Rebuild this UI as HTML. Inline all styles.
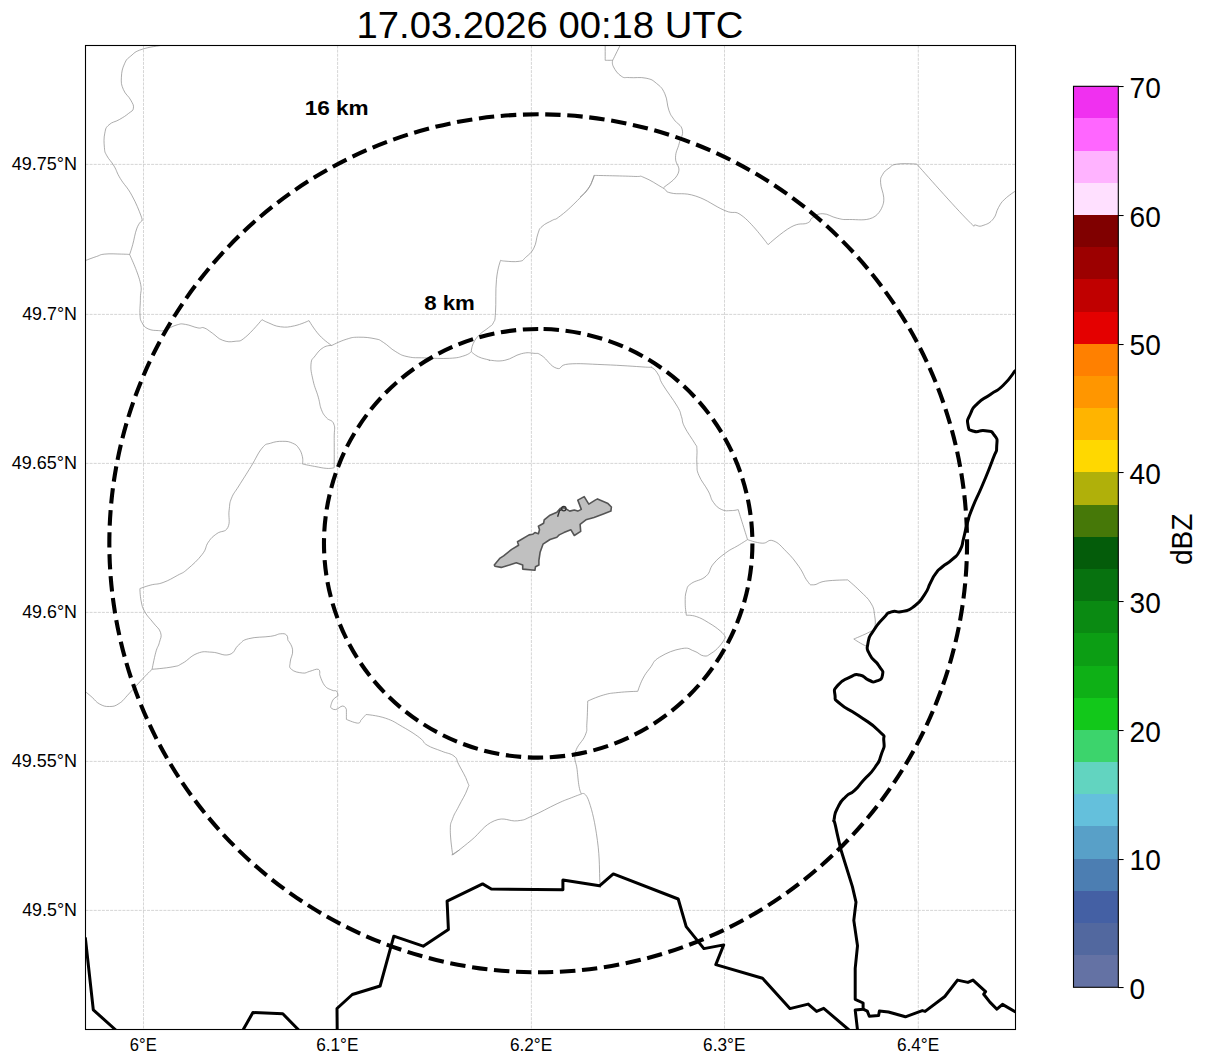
<!DOCTYPE html>
<html><head><meta charset="utf-8"><style>
html,body{margin:0;padding:0;background:#fff;width:1207px;height:1064px;overflow:hidden}
svg{display:block}
text{font-family:"Liberation Sans",sans-serif;fill:#000}
.lab{font-size:18.2px}
.cb{font-size:29.8px}
.g{stroke:#c4c4c4;stroke-width:0.7;stroke-dasharray:3 1.1}
.thin{fill:none;stroke:#888;stroke-width:0.7;stroke-linejoin:round}
.thick{fill:none;stroke:#000;stroke-width:3;stroke-linejoin:round}
.ring{fill:none;stroke:#000;stroke-width:4.1;stroke-dasharray:15.42 6.66}
.km{font-size:19.5px;font-weight:bold}
</style></head><body>
<svg width="1207" height="1064" viewBox="0 0 1207 1064">
<text x="356.6" y="37.9" style="font-size:37px" textLength="386.7" lengthAdjust="spacingAndGlyphs">17.03.2026 00:18 UTC</text>
<defs><clipPath id="clip"><rect x="85.5" y="45.5" width="930" height="984"/></clipPath></defs>
<g>
<line x1="85.5" y1="164.4" x2="1015.5" y2="164.4" class="g"/>
<line x1="85.5" y1="314.4" x2="1015.5" y2="314.4" class="g"/>
<line x1="85.5" y1="463.4" x2="1015.5" y2="463.4" class="g"/>
<line x1="85.5" y1="612.4" x2="1015.5" y2="612.4" class="g"/>
<line x1="85.5" y1="761.4" x2="1015.5" y2="761.4" class="g"/>
<line x1="85.5" y1="910.4" x2="1015.5" y2="910.4" class="g"/>
<line x1="143.5" y1="45.5" x2="143.5" y2="1029.5" class="g"/>
<line x1="337.6" y1="45.5" x2="337.6" y2="1029.5" class="g"/>
<line x1="531.4" y1="45.5" x2="531.4" y2="1029.5" class="g"/>
<line x1="724.5" y1="45.5" x2="724.5" y2="1029.5" class="g"/>
<line x1="918.3" y1="45.5" x2="918.3" y2="1029.5" class="g"/>
</g>
<text x="11.7" y="169.8" class="lab" textLength="65.3" lengthAdjust="spacingAndGlyphs">49.75°N</text>
<text x="22.2" y="319.8" class="lab" textLength="54.8" lengthAdjust="spacingAndGlyphs">49.7°N</text>
<text x="11.7" y="468.8" class="lab" textLength="65.3" lengthAdjust="spacingAndGlyphs">49.65°N</text>
<text x="22.2" y="617.8" class="lab" textLength="54.8" lengthAdjust="spacingAndGlyphs">49.6°N</text>
<text x="11.7" y="766.8" class="lab" textLength="65.3" lengthAdjust="spacingAndGlyphs">49.55°N</text>
<text x="22.2" y="915.8" class="lab" textLength="54.8" lengthAdjust="spacingAndGlyphs">49.5°N</text>
<text x="129.8" y="1050.9" class="lab" textLength="26.9" lengthAdjust="spacingAndGlyphs">6°E</text>
<text x="316.2" y="1050.9" class="lab" textLength="42.3" lengthAdjust="spacingAndGlyphs">6.1°E</text>
<text x="509.9" y="1050.9" class="lab" textLength="42.3" lengthAdjust="spacingAndGlyphs">6.2°E</text>
<text x="703.1" y="1050.9" class="lab" textLength="42.3" lengthAdjust="spacingAndGlyphs">6.3°E</text>
<text x="896.9" y="1050.9" class="lab" textLength="42.3" lengthAdjust="spacingAndGlyphs">6.4°E</text>
<g clip-path="url(#clip)">
<path class="thin" d="M605.2,45 C605.2,48.6 605.2,60.3 605.2,60.3 C605.2,60.3 612.7,60.3 612.7,60.3 C612.7,60.3 618.5,48.6 620.3,45"/>
<path class="thin" d="M612.7,60.3 C612.7,60.3 611.5,63.2 613.5,66.9 C615.5,70.6 617.5,73.7 621.3,76.2 C625.1,78.7 623.8,77.1 629.6,77.6 C635.4,78.1 639.8,76.8 646.1,78.2 C652.4,79.6 652.1,79.8 656.5,83.4 C660.9,87.0 661.9,87.4 664.8,93.7 C667.7,100.0 666.7,104.3 668.9,110.3 C671.1,116.3 671.0,115.0 674.1,119.6 C677.2,124.2 681.1,124.3 682.3,129.9 C683.5,135.5 680.8,136.9 679.2,143.4 C677.6,149.9 675.7,150.8 675.5,157.8 C675.3,164.8 681.0,166.3 678.2,173.3 C675.4,180.3 666.9,184.4 663.5,187.8"/>
<path class="thin" d="M580,197.1 C581.9,195.2 585.0,193.9 588.3,188.8 C591.6,183.7 594.1,175.4 594.1,175.4 C594.1,175.4 622.0,175.9 633.7,176.4 C645.4,176.9 637.3,174.8 644.1,177.5 C650.9,180.2 656.4,184.2 662.7,187.8 C669.0,191.4 663.3,191.1 671,193 C678.7,194.9 683.3,192.0 695.8,196.1 C708.3,200.2 713.6,205.7 724.7,210.5 C735.8,215.3 733.2,208.7 743.3,216.7 C753.4,224.7 768.1,244.7 768.1,244.7 C768.1,244.7 781.7,232.2 790.9,227.1 C800.1,222.0 802.4,225.2 807.4,223 C812.4,220.8 808.8,220.0 812.4,217.8 C816.0,215.6 816.9,213.6 822.7,213.7 C828.5,213.8 830.9,216.8 837.2,218.2 C843.5,219.6 841.4,219.6 849.6,219.5 C857.8,219.4 864.7,221.1 872.4,217.8 C880.1,214.5 882.7,205.4 882.7,205.4 C882.7,205.4 884.2,202.5 883.7,197.2 C883.2,191.9 880.8,188.0 880.6,182.7 C880.4,177.4 880.8,177.8 882.7,174.4 C884.6,171.0 885.5,170.6 888.9,168.2 C892.3,165.8 890.7,165.1 897.2,164.1 C903.7,163.1 916.8,164.1 916.8,164.1 C916.8,164.1 951.6,203.6 965.4,217.8 C979.2,232.0 971.5,223.4 975.8,225.1 C980.1,226.8 979.9,226.5 984,225.1 C988.1,223.7 989.9,223.0 993.3,218.9 C996.7,214.8 995.8,212.1 998.5,207.5 C1001.2,202.9 1000.7,203.0 1004.7,199.2 C1008.7,195.3 1015.5,191.0 1015.5,191"/>
<path class="thin" d="M163.7,45 C158.6,46.0 149.7,46.7 142,49.3 C134.3,51.9 134.8,52.7 130.7,56.1 C126.6,59.5 126.7,58.9 124.5,63.8 C122.3,68.7 121.7,71.2 121.4,77.2 C121.1,83.2 121.2,84.3 123.4,89.6 C125.6,94.9 128.4,95.7 130.7,100 C133.0,104.3 133.9,105.1 133.4,108.2 C132.9,111.3 131.9,110.7 128.6,113.4 C125.3,116.1 123.9,116.9 119.3,119.6 C114.7,122.3 112.4,121.6 109,124.8 C105.6,128.0 105.9,127.8 104.8,133.1 C103.7,138.4 103.9,142.2 104.4,147.5 C104.9,152.8 104.6,151.5 106.9,155.8 C109.2,160.1 111.0,160.8 114.1,166.1 C117.2,171.4 116.2,171.7 120.3,178.5 C124.4,185.3 126.9,186.4 131.7,195.1 C136.5,203.8 138.7,209.8 141,215.8 C143.3,221.8 141.6,221.0 141.6,221 C141.6,221.0 139.0,222.7 136.9,228.2 C134.8,233.7 134.4,238.6 132.7,244.7 C131.0,250.8 129.6,254.5 129.6,254.5"/>
<path class="thin" d="M129.6,254.5 C129.6,254.5 127.2,254.2 121.4,254.1 C115.6,254.0 110.6,253.5 104.8,254.1 C99.0,254.7 101.1,255.0 96.5,256.5 C91.9,258.0 87.7,259.7 85,260.7"/>
<path class="thin" d="M129.6,254.5 C129.6,254.5 137.5,271.3 140,281.4 C142.5,291.5 140.4,290.2 140.4,297.9 C140.4,305.6 139.6,308.6 140,314.4 C140.4,320.2 140.1,319.3 142,322.7 C143.9,326.1 144.3,327.1 148.2,328.9 C152.1,330.7 154.7,330.3 158.6,330.6 C162.5,330.9 160.5,331.4 164.8,330 C169.1,328.6 172.4,326.1 177.2,324.8 C182.0,323.5 180.7,323.7 185.5,324.4 C190.3,325.1 193.6,327.1 197.9,327.9 C202.2,328.7 200.7,326.7 204.1,327.9 C207.5,329.1 208.0,330.2 212.3,333.1 C216.6,336.0 217.4,338.4 222.7,340.3 C228.0,342.2 229.8,342.0 235.1,341.3 C240.4,340.6 239.1,342.3 245.4,337.2 C251.7,332.1 262.0,319.6 262,319.6 C262.0,319.6 263.9,321.0 268.2,322.7 C272.5,324.4 274.5,326.1 280.6,326.8 C286.7,327.5 287.9,327.2 294.5,325.8 C301.1,324.4 309.0,320.6 309,320.6 C309.0,320.6 314.0,329.3 319.3,335.1 C324.6,340.9 331.7,345.5 331.7,345.5"/>
<path class="thin" d="M331.7,345.5 C331.7,345.5 339.9,341.2 346.2,339.3 C352.5,337.4 351.9,337.3 358.6,337.2 C365.3,337.1 369.3,337.6 375.1,338.8 C380.9,340.0 378.6,339.4 383.4,342.4 C388.2,345.4 390.0,348.3 395.8,351.7 C401.6,355.1 401.5,355.4 408.2,356.8 C414.9,358.2 415.0,357.5 424.7,357.9 C434.4,358.2 440.4,358.8 449.6,358.3 C458.8,357.8 458.9,357.3 464,355.8 C469.1,354.3 471.3,351.7 471.3,351.7 C471.3,351.7 471.4,347.4 473.3,343.4 C475.2,339.4 476.0,338.3 479.5,334.7 C483.0,331.1 485.1,330.6 488.3,327.8 C491.5,325.0 491.7,326.3 493.4,322.7 C495.1,319.1 494.8,322.4 495.5,312.3 C496.2,302.2 495.3,291.5 496.5,279.3 C497.7,267.1 500.7,260.2 500.7,260.2 C500.7,260.2 500.5,260.8 504.8,261.1 C509.1,261.4 514.5,262.1 519.3,261.3 C524.1,260.5 522.1,260.6 525.5,257.5 C528.9,254.4 530.9,253.7 533.8,248.2 C536.7,242.7 536.0,238.9 537.9,233.8 C539.8,228.7 538.6,229.7 542,226.5 C545.4,223.3 548.5,222.5 552.4,220.3 C556.3,218.1 553.8,220.8 558.6,217.2 C563.4,213.6 566.4,211.3 573.1,204.8 C579.8,198.3 582.9,195.1 587.5,189.3 C592.1,183.5 591.2,183.2 592.7,180 C594.2,176.8 594.1,175.4 594.1,175.4"/>
<path class="thin" d="M471.3,351.7 C471.3,351.7 474.4,354.9 478.5,356.8 C482.6,358.7 486.0,359.1 488.8,359.9 C491.6,360.7 486.6,360.2 490.3,360.3 C494.0,360.4 497.5,361.8 504.8,360.3 C512.1,358.8 514.6,355.3 521.4,353.7 C528.2,352.1 529.0,352.8 533.8,353.3 C538.6,353.8 536.7,352.3 542,355.8 C547.3,359.3 550.2,366.3 556.5,368.2 C562.8,370.1 557.8,364.8 568.9,364 C580.0,363.2 586.2,364.0 604.1,364.7 C622.0,365.4 634.1,366.4 645.4,367.1 C656.7,367.8 649.3,366.0 652.4,367.9 C655.5,369.8 656.2,371.3 658.6,375.2 C661.0,379.1 658.4,377.3 662.7,384.5 C667.0,391.7 672.8,398.7 677.2,406.2 C681.6,413.7 679.7,411.7 681.4,416.5 C683.1,421.3 681.4,420.5 684.5,426.8 C687.6,433.1 691.9,438.3 694.8,443.4 C697.7,448.5 696.4,443.8 696.9,448.6 C697.4,453.4 696.4,457.8 696.9,464.1 C697.4,470.4 696.3,469.1 698.9,475.4 C701.5,481.7 704.8,484.7 708.2,491 C711.6,497.3 710.2,498.0 713.4,502.3 C716.5,506.6 717.6,507.7 721.7,509.6 C725.8,511.5 727.1,510.6 731,510.6 C734.9,510.6 738.2,509.6 738.2,509.6 C738.2,509.6 747.5,539.5 747.5,539.5"/>
<path class="thin" d="M331.7,345.5 C331.7,345.5 327.2,345.1 323.4,347.5 C319.5,349.9 318.1,351.9 315.2,355.8 C312.3,359.7 311.5,358.3 311,364.1 C310.5,369.9 311.4,372.9 313.1,380.6 C314.8,388.3 316.4,390.4 318.3,397.2 C320.2,404.0 319.5,404.8 321.4,409.6 C323.3,414.4 323.6,414.4 326.5,417.8 C329.4,421.2 332.0,419.2 333.8,424 C335.6,428.8 334.1,428.3 334.2,438.5 C334.3,448.7 334.2,467.7 334.2,467.7"/>
<path class="thin" d="M334.2,467.7 C334.2,467.7 331.4,468.7 326.8,468.4 C322.2,468.1 320.3,467.4 314.6,466.4 C308.9,465.4 302.4,464.0 302.4,464 C302.4,464.0 303.3,460.4 302.4,456.7 C301.5,453.0 301.0,451.2 298.7,448.1 C296.4,445.0 296.3,444.8 292.6,443.2 C288.9,441.6 287.9,441.3 282.8,441.3 C277.7,441.3 275.4,441.6 270.6,443.2 C265.8,444.8 266.7,442.7 262.1,448.1 C257.6,453.5 256.5,457.6 251.1,466.4 C245.7,475.2 243.4,478.6 238.8,486 C234.2,493.4 233.8,492.5 231.5,498.2 C229.2,503.9 230.0,503.6 229.1,510.4 C228.2,517.2 230.6,522.1 227.8,527.5 C225.0,532.9 221.5,530.2 216.9,533.6 C212.3,537.0 211.7,537.3 208.3,542.2 C204.9,547.1 207.1,548.1 202.2,554.4 C197.3,560.7 193.2,564.2 187.5,569.1 C181.8,574.0 183.5,572.1 177.8,575.2 C172.1,578.3 169.4,580.2 163.1,582.5 C156.8,584.8 156.3,583.6 150.9,585 C145.5,586.4 139.9,588.6 139.9,588.6 C139.9,588.6 140.0,595.4 141.1,600.8 C142.2,606.2 142.0,606.7 144.8,611.8 C147.6,616.9 149.6,617.9 153.3,622.8 C157.0,627.7 159.2,628.0 160.6,632.6 C162.0,637.2 160.5,637.8 159.4,642.4 C158.3,647.0 157.5,645.9 155.8,652.2 C154.1,658.5 152.1,669.3 152.1,669.3"/>
<path class="thin" d="M85,691.3 C86.7,692.7 88.8,694.4 92.2,697.4 C95.6,700.4 95.6,701.9 99.6,704 C103.6,706.1 104.8,706.6 109.3,706.5 C113.8,706.4 114.5,706.5 119.1,703.5 C123.7,700.5 123.2,699.8 128.9,693.8 C134.6,687.8 138.1,683.6 143.5,677.9 C148.9,672.2 152.1,669.3 152.1,669.3"/>
<path class="thin" d="M152.1,669.3 C152.1,669.3 165.8,668.2 172.9,666.8 C180.0,665.4 176.9,666.3 182.6,663.2 C188.3,660.1 190.4,656.0 197.3,653.4 C204.2,650.8 204.6,651.9 212,652.2 C219.4,652.5 222.8,656.3 229.1,654.6 C235.4,652.9 234.2,648.5 238.8,644.8 C243.4,641.1 241.2,640.7 248.6,638.7 C256.0,636.7 263.2,637.4 270.6,636.3 C278.0,635.2 276.7,634.1 280.4,633.8 C284.1,633.5 284.8,633.6 286.5,635 C288.2,636.4 287.7,640.0 287.7,640 C287.7,640.0 292.0,644.7 292.6,649.8 C293.2,654.9 290.5,657.5 290.2,662 C289.9,666.5 288.6,666.7 291.4,669.3 C294.2,671.9 298.1,672.5 302.4,673 C306.7,673.5 306.1,672.2 309.8,671.3 C313.5,670.4 316.0,668.6 318.3,669.3 C320.6,670.0 319.6,674.2 319.6,674.2 C319.6,674.2 321.6,681.5 324.4,685.2 C327.2,688.9 328.9,688.7 331.8,690.1 C334.7,691.5 335.3,689.9 336.7,691.3 C338.1,692.7 337.9,696.2 337.9,696.2 C337.9,696.2 334.7,697.3 333,699.9 C331.3,702.5 330.5,707.2 330.5,707.2 C330.5,707.2 332.5,709.9 335.4,709.6 C338.3,709.3 340.2,706.0 342.8,706 C345.4,706.0 346.4,709.6 346.4,709.6 C346.4,709.6 346.4,719.4 346.4,719.4 C346.4,719.4 354.1,722.8 357.4,723.1 C360.7,723.4 360.6,720.6 360.6,720.6 C360.6,720.6 366.0,714.5 366,714.5 C366.0,714.5 377.0,715.3 385.5,718.2 C394.0,721.1 394.6,722.2 402.6,726.8 C410.6,731.4 414.0,733.5 419.7,737.8 C425.4,742.1 422.0,742.0 427.1,745.1 C432.2,748.2 435.4,748.6 441.7,751.2 C448.0,753.8 450.0,753.0 454,756.1 C458.0,759.2 455.7,758.6 458.8,764.6 C461.9,770.6 465.4,776.0 467.4,781.7 C469.4,787.4 469.4,783.4 467.4,789.1 C465.4,794.8 462.2,799.4 458.8,806.2 C455.4,813.0 454.7,812.7 452.7,818.4 C450.7,824.1 450.3,822.1 450.3,830.6 C450.3,839.1 452.7,855.0 452.7,855 C452.7,855.0 461.4,848.4 471.1,840.4 C480.8,832.4 483.5,825.4 494.3,820.8 C505.1,816.2 508.7,821.9 517.5,820.8 C526.3,819.7 523.0,820.0 532.2,816 C541.4,812.0 547.9,808.0 557.1,803.7 C566.3,799.4 566.1,799.9 571.8,797.6 C577.5,795.3 581.5,794.0 581.5,794"/>
<path class="thin" d="M581.5,794 C581.5,794.0 580.1,792.3 579.1,786.6 C578.1,780.9 578.0,777.5 577.1,769.5 C576.2,761.5 573.5,760.4 575.4,752.4 C577.3,744.4 582.5,742.1 585.2,735.3 C587.9,728.5 586.3,731.1 586.9,723.1 C587.5,715.1 587.7,701.1 587.7,701.1 C587.7,701.1 596.4,697.0 603.5,695 C610.6,693.0 610.2,693.4 618.2,692.5 C626.2,691.6 637.8,691.3 637.8,691.3 C637.8,691.3 639.8,684.5 642.6,679.1 C645.4,673.7 646.0,673.2 650,668.1 C654.0,663.0 652.3,661.6 659.7,657.1 C667.1,652.6 673.7,650.0 681.7,648.6 C689.7,647.2 688.9,649.3 694,651 C699.1,652.7 699.7,655.3 703.7,655.9 C707.7,656.5 707.4,655.7 711.1,653.4 C714.8,651.1 716.2,649.9 719.6,646.1 C723.0,642.3 725.5,637.3 725.5,637.3"/>
<path class="thin" d="M581.5,794 C581.5,794.0 585.2,790.5 588.9,801.3 C592.6,812.1 594.8,821.6 597.4,840.4 C600.0,859.2 599.2,871.3 599.9,881.9 C600.6,892.5 600.4,885.0 600.5,886"/>
<path class="thin" d="M747.5,539.6 C747.5,539.6 742.9,542.6 737.8,545.7 C732.7,548.8 731.2,548.7 725.5,553 C719.8,557.3 717.8,558.6 713.3,564 C708.8,569.4 711.1,571.7 706,576.2 C700.9,580.8 695.9,580.1 691.3,583.5 C686.7,586.9 687.8,586.3 686.4,590.9 C685.0,595.5 685.2,597.4 685.2,603.1 C685.2,608.8 686.4,615.3 686.4,615.3 C686.4,615.3 691.1,614.8 696.2,616.5 C701.3,618.2 702.7,619.2 708.4,622.6 C714.1,626.0 716.6,627.8 720.6,631.2 C724.6,634.6 725.5,637.3 725.5,637.3"/>
<path class="thin" d="M747.5,539.6 C747.5,539.6 756.2,542.9 762.2,543.2 C768.2,543.5 767.5,538.8 773.2,540.8 C778.9,542.8 780.6,545.8 786.6,551.8 C792.6,557.8 793.9,559.6 798.8,566.4 C803.7,573.2 804.0,576.8 807.4,581.1 C810.8,585.4 809.2,584.8 813.5,584.8 C817.8,584.8 817.7,582.2 825.7,581.1 C833.7,580.0 847.7,579.9 847.7,579.9 C847.7,579.9 854.5,585.5 859.9,590.9 C865.3,596.3 867.5,597.4 870.9,603.1 C874.3,608.8 873.7,609.6 874.6,615.3 C875.5,621.0 875.7,623.6 874.6,627.5 C873.5,631.4 874.6,629.2 869.7,631.9 C864.8,634.6 853.8,639.0 853.8,639 C853.8,639.0 862.7,645.0 866,645.9 C869.3,646.8 867.5,643.7 868,643"/>
<path class="thin" d="M451.6,854.8 C453.4,853.7 457.7,851.1 459.5,850"/>
<polyline class="thick" points="85.3,937.5 93.3,1009.9 115.8,1030"/>
<polyline class="thick" points="243,1030 252.9,1012.5 282.8,1013.8 298.7,1030"/>
<polyline class="thick" points="337.2,1030 337,1008.5 352.3,994.5 380.1,986 393.8,936.2 423.2,946.2 448.4,929.5 447.1,901.2 482.6,883.9 491.3,889 562.9,889.8 562.9,880 599.5,885.8 613.3,873.9 678.2,899 686.2,926.6 703.9,948.6 723.7,944.9 715.8,964.6 762.5,978.2 789.9,1008.6 808.2,1004.1 816.6,1011.4 823.7,1008.3 849,1030"/>
<polyline class="thick" points="863.1,1009.2 867.3,1011.1 869.3,1016.2 878.6,1015.6 879.4,1011.1 888.5,1012 905.4,1016.8 922.3,1010.6 925.1,1011.4 944.8,996.5 957.5,980.1 967.9,982.4 973,980.1 985.6,991.7 983.7,994.2 989.9,1002.1 996.9,1009.2 1002.5,1004.4 1015.5,1012"/>
<path class="thick" d="M1015.5,370.3 C1011.3,375.4 1011.4,377.5 1003,385.5 C994.6,393.5 998.8,388.5 990.4,394.4 C982.0,400.3 984.3,396.9 977.7,403.3 C971.1,409.7 973.8,406.3 970.6,413.5 C967.4,420.7 966.9,419.0 968,424.9 C969.1,430.8 968.1,429.3 973.9,431.2 C979.7,433.1 978.5,429.4 985.3,430.7 C992.1,432.0 990.4,429.8 994.2,435 C998.0,440.2 997.1,438.4 996.7,446.4 C996.3,454.4 997.6,446.4 992.9,459.1 C988.2,471.8 989.5,468.4 982.7,484.5 C975.9,500.6 977.7,494.7 972.6,507.4 C967.5,520.1 970.5,512.5 967.5,522.6 C964.5,532.7 966.2,528.5 963.7,537.8 C961.2,547.1 963.7,543.3 959.9,550.5 C956.1,557.7 958.2,553.9 952.3,559.4 C946.4,564.9 947.6,562.3 942.1,567 C936.6,571.7 939.6,568.3 935.8,573.4 C932.0,578.5 934.5,575.0 930.7,582.2 C926.9,589.4 929.9,586.9 924.4,594.9 C918.9,602.9 921.4,600.8 914.2,606.3 C907.0,611.8 910.4,609.5 902.8,611.4 C895.2,613.3 897.7,609.8 891.4,611.9 C885.1,614.0 889.7,611.6 883.8,617.8 C877.9,624.0 878.9,622.1 873.6,630.5 C868.3,638.9 869.3,635.1 868,643.1 C866.7,651.1 866.2,647.1 869.8,654.6 C873.4,662.1 874.5,658.7 878.7,665.5 C882.9,672.3 883.4,669.7 882.5,674.9 C881.6,680.1 880.8,679.5 876.1,681.2 C871.4,682.9 874.0,682.1 868.5,680 C863.0,677.9 865.9,675.8 859.6,674.9 C853.3,674.0 856.7,674.0 849.5,677.4 C842.3,680.8 842.9,679.1 838.1,685 C833.3,690.9 834.2,688.8 835,695.2 C835.8,701.6 832.8,697.3 840.6,704.1 C848.4,710.9 845.7,706.6 858.4,715.5 C871.1,724.4 870.2,722.2 878.7,730.7 C887.2,739.2 883.0,732.9 883.8,740.9 C884.6,748.9 884.2,745.9 881.2,754.8 C878.2,763.7 880.8,759.0 874.9,767.5 C869.0,776.0 870.3,772.6 863.5,780.2 C856.7,787.8 860.5,784.9 854.6,790.4 C848.7,795.9 851.2,791.2 845.7,796.7 C840.2,802.2 841.9,799.7 838.1,806.9 C834.3,814.1 835.2,812.0 834.3,818.3 C833.4,824.6 833.4,815.8 835.5,825.9 C837.6,836.0 838.9,841.1 840.6,848.7"/>
<polyline class="thick" points="840.6,848.7 852.4,886.6 856,902.1 853.8,920.4 857.5,945.8 855.2,968.3 855.2,999.3 863.1,1003 863.1,1009.2 855.2,1010 857.5,1030"/>
<polygon points="494.3,565 500.1,558.1 503.6,555.8 511.7,549.4 518.6,545.3 517.5,541.8 529.1,534.9 532.6,534.3 534.9,532.6 538.4,533.7 539.5,529.7 538.4,526.2 543.6,523.3 544.2,519.8 550,515.2 556.9,512.3 560.4,508.2 563.9,507.6 569.7,511.1 574.3,510 577.8,511.1 581.3,509.4 577.8,500.1 584.2,496.6 588.8,504.1 595.2,500.1 597.5,498.9 608,503.6 611.4,507 610.9,511.1 603.3,514 594,517.5 585.9,519.8 580.1,524.4 580.7,531.4 574.3,535.5 570.8,529.7 563.9,532.6 559.2,534.9 556.9,537.2 550,539.5 543,544.2 540.1,552.3 538.9,560.4 538.9,565 535.5,566.8 534.9,570.3 522.7,569.1 522.7,565 516.3,562.7 509.4,565 501.2,567.4 494.9,566.2" fill="#c0c0c0" stroke="#555" stroke-width="1.6" stroke-linejoin="round"/><path d="M557.6,516.8 L559.6,510.6 L562,509.4" fill="none" stroke="#333" stroke-width="1.4"/><circle cx="563.8" cy="508.6" r="2.2" fill="none" stroke="#333" stroke-width="1.3"/>
<path class="ring" d="M538.2,114.3 A429,429 0 0 0 538.2,972.3 A429,429 0 0 0 538.2,114.3"/>
<path class="ring" d="M538.2,329 A214.3,214.3 0 0 0 538.2,757.6 A214.3,214.3 0 0 0 538.2,329"/>
</g>
<text x="304.7" y="114.9" class="km" textLength="64" lengthAdjust="spacingAndGlyphs">16 km</text>
<text x="424.2" y="309.9" class="km" textLength="50.7" lengthAdjust="spacingAndGlyphs">8 km</text>
<rect x="85.5" y="45.5" width="930" height="984" fill="none" stroke="#000" stroke-width="1.1"/>
<g>
<rect x="1073.5" y="955" width="44.8" height="32" fill="#6472a4"/>
<rect x="1073.5" y="923" width="44.8" height="32" fill="#52689f"/>
<rect x="1073.5" y="891" width="44.8" height="32" fill="#4460a4"/>
<rect x="1073.5" y="859" width="44.8" height="32" fill="#4c7eb2"/>
<rect x="1073.5" y="826" width="44.8" height="33" fill="#58a0c8"/>
<rect x="1073.5" y="794" width="44.8" height="32" fill="#64c0dc"/>
<rect x="1073.5" y="762" width="44.8" height="32" fill="#62d4c0"/>
<rect x="1073.5" y="730" width="44.8" height="32" fill="#3cd46c"/>
<rect x="1073.5" y="698" width="44.8" height="32" fill="#12c81a"/>
<rect x="1073.5" y="666" width="44.8" height="32" fill="#0eb016"/>
<rect x="1073.5" y="633" width="44.8" height="33" fill="#0c9e14"/>
<rect x="1073.5" y="601" width="44.8" height="32" fill="#0a8a12"/>
<rect x="1073.5" y="569" width="44.8" height="32" fill="#07720f"/>
<rect x="1073.5" y="537" width="44.8" height="32" fill="#045c0a"/>
<rect x="1073.5" y="505" width="44.8" height="32" fill="#467808"/>
<rect x="1073.5" y="472" width="44.8" height="33" fill="#b0b00a"/>
<rect x="1073.5" y="440" width="44.8" height="32" fill="#ffd800"/>
<rect x="1073.5" y="408" width="44.8" height="32" fill="#ffb400"/>
<rect x="1073.5" y="376" width="44.8" height="32" fill="#ff9600"/>
<rect x="1073.5" y="344" width="44.8" height="32" fill="#ff8000"/>
<rect x="1073.5" y="312" width="44.8" height="32" fill="#e40000"/>
<rect x="1073.5" y="279" width="44.8" height="33" fill="#c00000"/>
<rect x="1073.5" y="247" width="44.8" height="32" fill="#9c0000"/>
<rect x="1073.5" y="215" width="44.8" height="32" fill="#800000"/>
<rect x="1073.5" y="183" width="44.8" height="32" fill="#ffe0ff"/>
<rect x="1073.5" y="151" width="44.8" height="32" fill="#ffb3ff"/>
<rect x="1073.5" y="118" width="44.8" height="33" fill="#ff66ff"/>
<rect x="1073.5" y="86" width="44.8" height="32" fill="#f030f0"/>
<rect x="1073.5" y="86.3" width="44.8" height="901" fill="none" stroke="#000" stroke-width="1.1"/>
<rect x="1118" y="987" width="5.6" height="1.05" fill="#000"/>
<text x="1129.6" y="999.00" class="cb" textLength="15.6" lengthAdjust="spacingAndGlyphs">0</text>
<rect x="1118" y="859" width="5.6" height="1.05" fill="#000"/>
<text x="1129.6" y="870.29" class="cb" textLength="31.2" lengthAdjust="spacingAndGlyphs">10</text>
<rect x="1118" y="730" width="5.6" height="1.05" fill="#000"/>
<text x="1129.6" y="741.57" class="cb" textLength="31.2" lengthAdjust="spacingAndGlyphs">20</text>
<rect x="1118" y="601" width="5.6" height="1.05" fill="#000"/>
<text x="1129.6" y="612.86" class="cb" textLength="31.2" lengthAdjust="spacingAndGlyphs">30</text>
<rect x="1118" y="472" width="5.6" height="1.05" fill="#000"/>
<text x="1129.6" y="484.14" class="cb" textLength="31.2" lengthAdjust="spacingAndGlyphs">40</text>
<rect x="1118" y="344" width="5.6" height="1.05" fill="#000"/>
<text x="1129.6" y="355.43" class="cb" textLength="31.2" lengthAdjust="spacingAndGlyphs">50</text>
<rect x="1118" y="215" width="5.6" height="1.05" fill="#000"/>
<text x="1129.6" y="226.71" class="cb" textLength="31.2" lengthAdjust="spacingAndGlyphs">60</text>
<rect x="1118" y="86" width="5.6" height="1.05" fill="#000"/>
<text x="1129.6" y="98.00" class="cb" textLength="31.2" lengthAdjust="spacingAndGlyphs">70</text>
</g>
<text transform="translate(1192,539.3) rotate(-90)" text-anchor="middle" class="cb" style="font-size:29px" textLength="51.5" lengthAdjust="spacingAndGlyphs">dBZ</text>
</svg>
</body></html>
